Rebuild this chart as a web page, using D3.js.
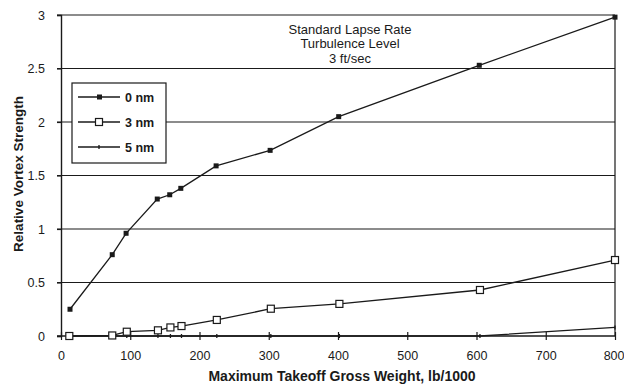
<!DOCTYPE html>
<html><head><meta charset="utf-8">
<script src="https://cdn.jsdelivr.net/npm/d3@7"></script>
<style>
body{margin:0;background:#fff;}
svg{display:block;font-family:"Liberation Sans",Arial,Helvetica,sans-serif;}
</style></head>
<body><svg id="c" width="624" height="386"></svg>
<script>
const weights0 = [13, 74, 94, 139, 157, 173, 224, 302, 401, 604, 800];
const nm0 = [0.25, 0.76, 0.96, 1.28, 1.32, 1.38, 1.59, 1.735, 2.05, 2.53, 2.98];
const weights3 = [12, 74, 95, 140, 158, 174, 225, 303, 402, 605, 800];
const nm3 = [0.0, 0.005, 0.04, 0.053, 0.08, 0.093, 0.15, 0.255, 0.30, 0.43, 0.71];
const weights5 = [12, 74, 95, 140, 158, 174, 225, 303, 402, 605, 800];
const nm5 = [0, 0, 0, 0, 0, 0, 0, 0, 0, 0, 0.08];
const xTicks = [0, 100, 200, 300, 400, 500, 600, 700, 800];
const yTicks = [0, 0.5, 1, 1.5, 2, 2.5, 3];
const legendLabels = ["0 nm", "3 nm", "5 nm"];
const annotation = ["Standard Lapse Rate", "Turbulence Level", "3 ft/sec"];

const svg = d3.select("#c");
const x = d3.scaleLinear().domain([0, 800]).range([61, 615]);
const y = d3.scaleLinear().domain([0, 3]).range([336, 15]);
const ink = "#1a1a1a";

// grid lines
svg.append("g").selectAll("line").data(yTicks.filter(d => d > 0)).join("line")
  .attr("x1", x(0) - 4).attr("x2", x(800)).attr("y1", d => y(d)).attr("y2", d => y(d))
  .attr("stroke", ink).attr("stroke-width", 1.2);

// y axis
const ya = svg.append("g").attr("transform", `translate(${x(0)},0)`)
  .call(d3.axisLeft(y).tickValues(yTicks).tickFormat(d => String(d)).tickSize(4).tickPadding(12));
ya.select(".domain").attr("stroke", ink).attr("stroke-width", 1.4);
ya.selectAll(".tick line").attr("stroke", ink).attr("stroke-width", 1.2);
ya.selectAll("text").attr("font-size", 12.5).attr("fill", ink).attr("font-family", "Liberation Sans, Arial, sans-serif");

// right border
svg.append("line").attr("x1", x(800)).attr("x2", x(800)).attr("y1", y(3)).attr("y2", y(0))
  .attr("stroke", ink).attr("stroke-width", 1.2);

// x axis
const xa = svg.append("g").attr("transform", `translate(0,${y(0)})`)
  .call(d3.axisBottom(x).tickValues(xTicks).tickFormat(d => String(d)).tickSize(4).tickPadding(11));
xa.select(".domain").remove();
xa.append("line").attr("x1", x(0) - 4).attr("x2", x(800)).attr("y1", 0).attr("y2", 0)
  .attr("stroke", ink).attr("stroke-width", 1.4);
xa.selectAll(".tick line").attr("y1", -4).attr("y2", 4).attr("stroke", ink).attr("stroke-width", 1.2);
xa.selectAll("text").attr("font-size", 12.5).attr("fill", ink).attr("font-family", "Liberation Sans, Arial, sans-serif");
xa.selectAll(".tick").filter(d => d === 800).select("text").attr("text-anchor", "end").attr("dx", 9);

const line = d3.line().x(d => x(d[0])).y(d => y(d[1]));
const s0 = d3.zip(weights0, nm0), s3 = d3.zip(weights3, nm3), s5 = d3.zip(weights5, nm5);

// 5 nm series
svg.append("path").datum(s5).attr("d", line).attr("fill", "none").attr("stroke", ink).attr("stroke-width", 1.3);
svg.append("g").selectAll("line").data(s5).join("line")
  .attr("x1", d => x(d[0])).attr("x2", d => x(d[0])).attr("y1", d => y(d[1]) - 2).attr("y2", d => y(d[1]) + 2)
  .attr("stroke", ink).attr("stroke-width", 1.3);

// 3 nm series
svg.append("path").datum(s3).attr("d", line).attr("fill", "none").attr("stroke", ink).attr("stroke-width", 1.3);
svg.append("g").selectAll("rect").data(s3).join("rect")
  .attr("x", d => x(d[0]) - 3.5).attr("y", d => y(d[1]) - 3.5).attr("width", 7).attr("height", 7)
  .attr("fill", "#fff").attr("stroke", ink).attr("stroke-width", 1.2);

// 0 nm series
svg.append("path").datum(s0).attr("d", line).attr("fill", "none").attr("stroke", ink).attr("stroke-width", 1.3);
svg.append("g").selectAll("rect").data(s0).join("rect")
  .attr("x", d => x(d[0]) - 2.5).attr("y", d => y(d[1]) - 2.5).attr("width", 5).attr("height", 5)
  .attr("fill", ink);

// annotation
svg.append("g").selectAll("text").data(annotation).join("text")
  .attr("x", 350).attr("y", (d, i) => 33.5 + i * 14.6).attr("text-anchor", "middle")
  .attr("font-size", 13).attr("fill", ink).text(d => d);

// legend
const lg = svg.append("g");
lg.append("rect").attr("x", 72).attr("y", 83).attr("width", 94).attr("height", 80)
  .attr("fill", "#fff").attr("stroke", ink).attr("stroke-width", 1.2);
const ly = [97, 122, 147];
legendLabels.forEach((lab, i) => {
  lg.append("line").attr("x1", 78).attr("x2", 120).attr("y1", ly[i]).attr("y2", ly[i])
    .attr("stroke", ink).attr("stroke-width", 1.3);
  if (i === 0) lg.append("rect").attr("x", 97).attr("y", ly[i] - 2.5).attr("width", 5).attr("height", 5).attr("fill", ink);
  if (i === 1) lg.append("rect").attr("x", 95.5).attr("y", ly[i] - 3.5).attr("width", 7).attr("height", 7)
    .attr("fill", "#fff").attr("stroke", ink).attr("stroke-width", 1.2);
  if (i === 2) lg.append("line").attr("x1", 99).attr("x2", 99).attr("y1", ly[i] - 2).attr("y2", ly[i] + 2)
    .attr("stroke", ink).attr("stroke-width", 1.3);
  lg.append("text").attr("x", 125).attr("y", ly[i] + 4.5).attr("font-size", 12.5).attr("font-weight", "bold")
    .attr("fill", ink).text(lab);
});

// axis titles
svg.append("text").attr("x", 342).attr("y", 381).attr("text-anchor", "middle")
  .attr("font-size", 14).attr("font-weight", "bold").attr("fill", ink)
  .text("Maximum Takeoff Gross Weight, lb/1000");
svg.append("text").attr("transform", "translate(23,174) rotate(-90)").attr("text-anchor", "middle")
  .attr("font-size", 13.5).attr("font-weight", "bold").attr("fill", ink)
  .text("Relative Vortex Strength");
</script></body></html>
